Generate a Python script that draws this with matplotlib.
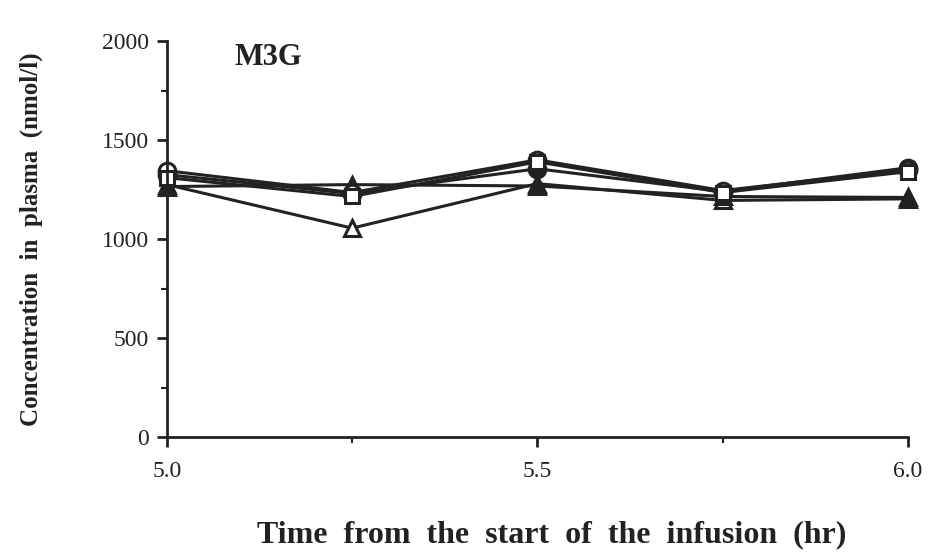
import matplotlib.pyplot as plt
from matplotlib.ticker import MultipleLocator

plt.rcParams['font.family'] = 'Liberation Serif'

# sampling times (hr) and plasma M3G concentrations (nmol/l)
time_hr = [5.0, 5.25, 5.5, 5.75, 6.0]
open_circle = [1345, 1235, 1400, 1245, 1350]
open_square = [1310, 1215, 1390, 1235, 1340]
filled_circle = [1325, 1230, 1355, 1240, 1360]
filled_triangle = [1265, 1275, 1268, 1215, 1210]
open_triangle = [1275, 1055, 1280, 1195, 1203]

fig = plt.figure(figsize=(9.32, 5.55), dpi=100)
ax = fig.add_axes([0.179, 0.2126, 0.795, 0.7134])

c = '#222222'
kw = dict(color=c, lw=2.2, mew=2.2, clip_on=False)
ax.plot(time_hr, open_triangle, marker='^', ms=12, mfc='white', mec=c, **kw)
ax.plot(time_hr, filled_triangle, marker='^', ms=12, mfc=c, mec=c, **kw)
ax.plot(time_hr, filled_circle, marker='o', ms=12, mfc=c, mec=c, **kw)
ax.plot(time_hr, open_circle, marker='o', ms=12, mfc='white', mec=c, **kw)
ax.plot(time_hr, open_square, marker='s', ms=10, mfc='white', mec=c, **kw)

ax.set_xlim(5.0, 6.0)
ax.set_ylim(0, 2000)
ax.spines['top'].set_visible(False)
ax.spines['right'].set_visible(False)
for side in ['left', 'bottom']:
    ax.spines[side].set_linewidth(2)
    ax.spines[side].set_color(c)

ax.xaxis.set_major_locator(MultipleLocator(0.5))
ax.xaxis.set_minor_locator(MultipleLocator(0.25))
ax.yaxis.set_major_locator(MultipleLocator(500))
ax.yaxis.set_minor_locator(MultipleLocator(250))
ax.xaxis.set_major_formatter(plt.FuncFormatter(lambda v, p: f'{v:.1f}'))
ax.tick_params(axis='both', which='major', length=7, width=2, color=c, labelsize=17, labelcolor=c)
ax.tick_params(axis='both', which='minor', length=4, width=1.5, color=c)
ax.tick_params(axis='x', pad=10)
ax.tick_params(axis='y', pad=6)

ax.set_xlabel('Time  from  the  start  of  the  infusion  (hr)', fontsize=23, fontweight='bold', labelpad=28, color=c)
ax.xaxis.label.set_x(0.52)
ax.set_ylabel('Concentration  in  plasma  (nmol/l)', fontsize=18, fontweight='bold', labelpad=42, color=c)

ax.text(5.092, 1915, 'M3G', fontsize=22, fontweight='bold', color=c, va='center')

fig.savefig('out.png', dpi=100)
